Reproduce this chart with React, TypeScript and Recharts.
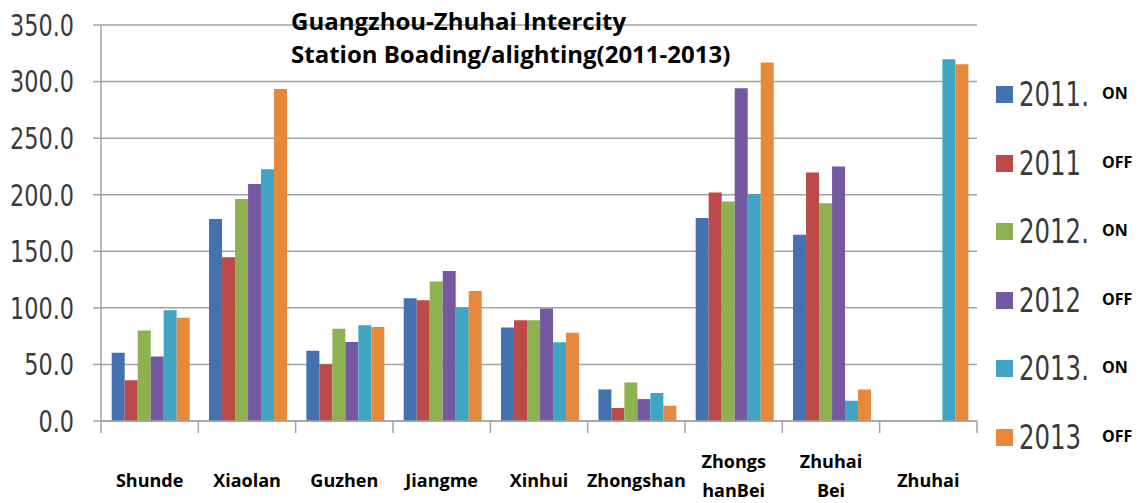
import React from "react";
import { BarChart, Bar, XAxis, YAxis, CartesianGrid } from "recharts";

const categories = ["Shunde", "Xiaolan", "Guzhen", "Jiangme", "Xinhui", "Zhongshan", "Zhongs\nhanBei", "Zhuhai\nBei", "Zhuhai"];
const on2011 = [60.4, 178.6, 62.2, 108.5, 82.6, 27.9, 179.4, 164.7, null];
const off2011 = [36.0, 144.7, 50.1, 106.8, 89.1, 11.5, 202.0, 219.7, null];
const on2012 = [79.9, 196.3, 81.6, 123.2, 89.1, 34.1, 194.1, 192.4, null];
const off2012 = [57.0, 209.5, 69.8, 132.6, 99.4, 19.4, 294.1, 225.0, null];
const on2013 = [97.8, 222.5, 84.6, 100.0, 69.7, 24.7, 200.6, 17.9, 319.7];
const off2013 = [91.3, 293.5, 83.1, 115.0, 77.9, 13.5, 316.8, 27.9, 315.3];
const yTicks = [0, 50, 100, 150, 200, 250, 300, 350];
const titleLines = ["Guangzhou-Zhuhai Intercity", "Station Boading/alighting(2011-2013)"];

const seriesKeys = ["on2011", "off2011", "on2012", "off2012", "on2013", "off2013"];
const seriesValues = [on2011, off2011, on2012, off2012, on2013, off2013];
const seriesYears = ["2011.", "2011", "2012.", "2012", "2013.", "2013"];
const seriesTags = ["ON", "OFF", "ON", "OFF", "ON", "OFF"];
const seriesColors = ["#4472B0", "#BB4A48", "#8EB24F", "#7459A0", "#3FA5C2", "#E8883A"];

const data = categories.map((c, i) => {
  const row: any = { name: c };
  seriesKeys.forEach((k, j) => {
    row[k] = seriesValues[j][i];
  });
  return row;
});

const W = 1148;
const H = 503;
const M = { top: 25, right: 171, bottom: 22, left: 0 };
const YW = 101;
const XH = 60;
const PLOT_W = W - M.left - M.right - YW;
const BAND = PLOT_W / categories.length;

const NUMFONT = "'DejaVu Sans', sans-serif";
const BOLD = "'Open Sans', sans-serif";
const GRID = "#a3a3a3";

const YTick = (props: any) => {
  const { x, y, payload } = props;
  return (
    <text
      transform={`translate(${x},${y}) scale(0.745,1)`}
      textAnchor="end"
      dy="0.36em"
      fontFamily={NUMFONT}
      fontSize={30}
      fill="#3a3a3a"
    >
      {Number(payload.value).toFixed(1)}
    </text>
  );
};

const XTick = (props: any) => {
  const { x, y, payload, index } = props;
  const lines = String(payload.value).split("\n");
  const last = index === categories.length - 1;
  const left = x - BAND / 2;
  return (
    <g>
      <line x1={left} x2={left} y1={y} y2={y + 12} stroke={GRID} strokeWidth={1.5} />
      {last && <line x1={left + BAND} x2={left + BAND} y1={y} y2={y + 12} stroke={GRID} strokeWidth={1.5} />}
      {lines.length === 1 ? (
        <text x={x} y={y + 66} textAnchor="middle" fontFamily={BOLD} fontWeight={700} fontSize={18} fill="#000">
          {lines[0]}
        </text>
      ) : (
        lines.map((l, k) => (
          <text key={k} x={x} y={y + 47 + k * 29} textAnchor="middle" fontFamily={BOLD} fontWeight={700} fontSize={18} fill="#000">
            {l}
          </text>
        ))
      )}
    </g>
  );
};

export default function App() {
  return (
    <div style={{ position: "absolute", left: 0, top: 0, width: W, height: H, background: "#fff" }}>
      <BarChart width={W} height={H} data={data} margin={M} barCategoryGap="11%" barGap={0}>
        <CartesianGrid vertical={false} stroke={GRID} strokeWidth={1.5} />
        <XAxis
          dataKey="name"
          height={XH}
          interval={0}
          tickLine={false}
          tickSize={0}
          tickMargin={0}
          axisLine={{ stroke: GRID, strokeWidth: 1.5 }}
          tick={<XTick />}
        />
        <YAxis
          width={YW}
          domain={[0, 350]}
          ticks={yTicks}
          interval={0}
          tickSize={8}
          tickMargin={19}
          tickLine={{ stroke: GRID, strokeWidth: 1.5 }}
          axisLine={{ stroke: GRID, strokeWidth: 1.5 }}
          tick={<YTick />}
        />
        {seriesKeys.map((k, j) => (
          <Bar key={k} dataKey={k} fill={seriesColors[j]} isAnimationActive={false} />
        ))}
      </BarChart>
      <div style={{ position: "absolute", left: 291, top: 4, fontFamily: BOLD, fontWeight: 700, fontSize: 24, lineHeight: "33px", color: "#000", whiteSpace: "nowrap" }}>
        {titleLines.map((t, i) => (
          <div key={i}>{t}</div>
        ))}
      </div>
      <div style={{ position: "absolute", left: 996, top: 76, width: 150 }}>
        {seriesKeys.map((k, j) => (
          <div key={k} style={{ position: "relative", height: 68.5 }}>
            <div style={{ position: "absolute", left: 0, top: 10, width: 17, height: 17, background: seriesColors[j] }} />
            <div
              style={{
                position: "absolute",
                left: 23,
                top: -1,
                fontFamily: NUMFONT,
                fontSize: 33,
                color: "#3a3a3a",
                lineHeight: "40px",
                whiteSpace: "nowrap",
                transform: "scaleX(0.74)",
                transformOrigin: "left center",
              }}
            >
              {seriesYears[j]}
            </div>
            <div style={{ position: "absolute", left: 106, top: 7, fontFamily: BOLD, fontWeight: 700, fontSize: 16, color: "#000", lineHeight: "20px" }}>
              {seriesTags[j]}
            </div>
          </div>
        ))}
      </div>
    </div>
  );
}
